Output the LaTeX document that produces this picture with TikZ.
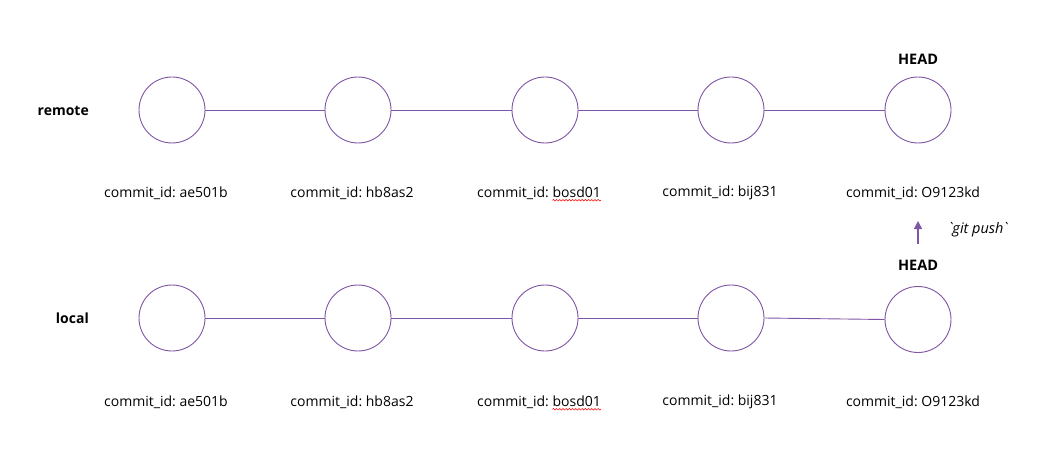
\documentclass[tikz,border=0pt]{standalone}
\usepackage{fontspec}
\setmainfont{Open Sans}
\newfontfamily\rawfont{Open Sans}
\usetikzlibrary{decorations.pathmorphing,arrows.meta}
\definecolor{gp}{HTML}{8155A5}
\begin{document}
\begin{tikzpicture}[x=1pt,y=-1pt,
  commit/.style={circle,draw=gp,line width=0.9pt,minimum size=66pt,inner sep=0pt},
  link/.style={draw=gp,line width=0.9pt},
  cid/.style={font=\fontsize{14}{16}\selectfont,inner sep=0pt,anchor=center},
  cidb/.style={font=\fontsize{14}{16}\selectfont,inner sep=0pt,anchor=base east},
  rowlbl/.style={font=\fontsize{14}{16}\selectfont\bfseries,inner sep=0pt,anchor=east},
  headlbl/.style={font=\fontsize{14.5}{16}\selectfont\bfseries,inner sep=0pt},
  squig/.style={red,line width=0.5pt,decorate,decoration={snake,amplitude=0.8pt,segment length=3.2pt}}]
\useasboundingbox (0,0) rectangle (1064,462);
\fill[white] (0,0) rectangle (1064,462);
% remote row
\node[rowlbl] (rl) at (89,111) {remote};
\node[commit] (r1) at (172,110) {};
\node[commit] (r2) at (358,110) {};
\node[commit] (r3) at (545,110) {};
\node[commit] (r4) at (731,110) {};
\node[commit] (r5) at (918,110) {};
\draw[link] (r1) -- (r2);
\draw[link] (r2) -- (r3);
\draw[link] (r3) -- (r4);
\draw[link] (r4) -- (r5);
\node[headlbl] (rh) at (918,59) {HEAD};
\node[cid] (rc1) at (166,193) {commit\_id:\ ae501b};
\node[cid] (rc2) at (352,193) {commit\_id:\ hb8as2};
\node[cid] (rc3) at (539,193) {commit\_id:\ \phantom{bosd01}};
\node[cidb] (rb) at (rc3.base east) {bosd01};
\node[cid] (rc4) at (720,193) {commit\_id:\ bij831};
\node[cid] (rc5) at (913,193) {commit\_id:\ O9123kd};
% local row
\node[rowlbl] (ll) at (89,318) {local};
\node[commit] (l1) at (172,318) {};
\node[commit] (l2) at (358,318) {};
\node[commit] (l3) at (545,318) {};
\node[commit] (l4) at (731,318) {};
\node[commit] (l5) at (918,319.5) {};
\draw[link] (l1) -- (l2);
\draw[link] (l2) -- (l3);
\draw[link] (l3) -- (l4);
\draw[link] (l4.east) -- (l5.west);
\node[headlbl] (lh) at (918,265) {HEAD};
\node[cid] (lc1) at (166,402) {commit\_id:\ ae501b};
\node[cid] (lc2) at (352,402) {commit\_id:\ hb8as2};
\node[cid] (lc3) at (539,402) {commit\_id:\ \phantom{bosd01}};
\node[cidb] (lb) at (lc3.base east) {bosd01};
\node[cid] (lc4) at (720,402) {commit\_id:\ bij831};
\node[cid] (lc5) at (913,402) {commit\_id:\ O9123kd};
% push arrow
\coordinate (pa) at (918,244);
\coordinate (pb) at (918,221);
\draw[gp,line width=1.3pt,-{Triangle[length=8pt,width=8pt]}] (pa) -- (pb);
\node[font=\rawfont\fontsize{14.5}{16}\selectfont\itshape,inner sep=0pt] (gpush) at (978,230) {`git push`};
% spell-check squiggles
\draw[squig] ([yshift=-3pt]rb.base west) -- ([yshift=-3pt]rb.base east);
\draw[squig] ([yshift=-3pt]lb.base west) -- ([yshift=-3pt]lb.base east);
\end{tikzpicture}
\end{document}
